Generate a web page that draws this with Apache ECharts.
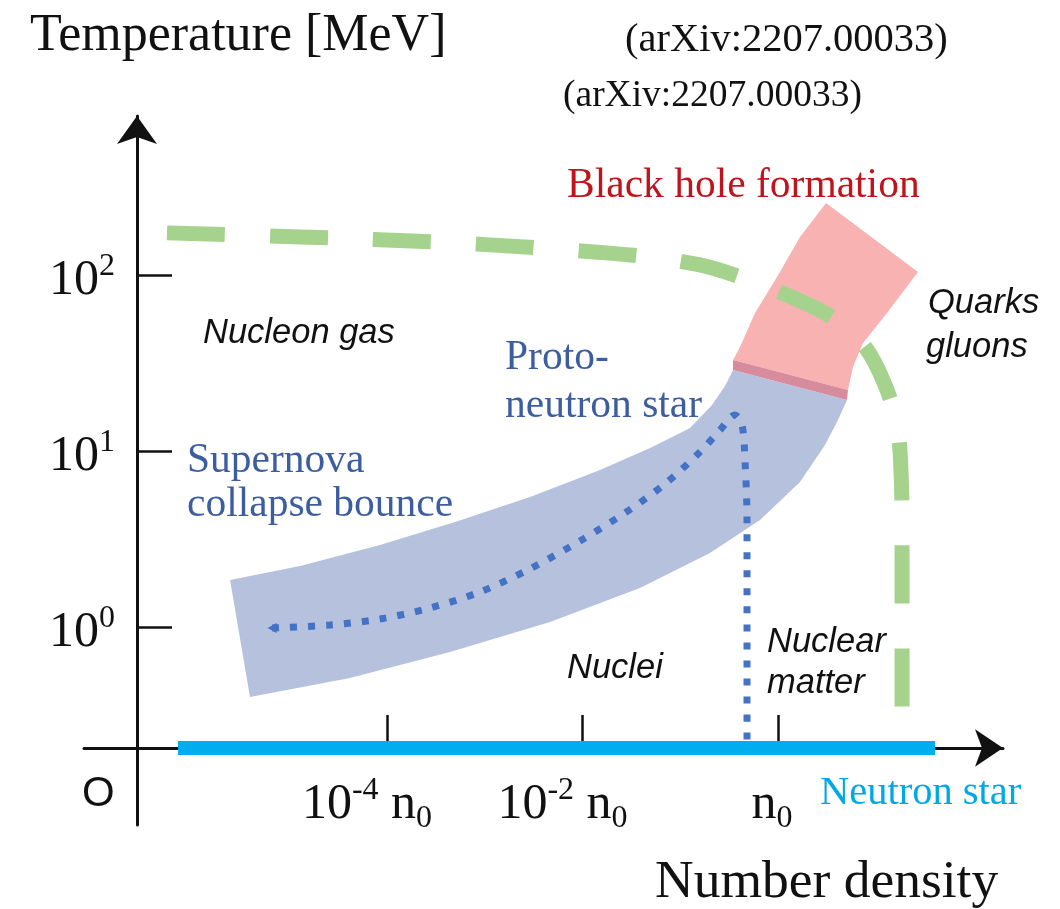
<!DOCTYPE html>
<html>
<head>
<meta charset="utf-8">
<title>QCD phase diagram sketch</title>
<script src="https://cdn.jsdelivr.net/npm/echarts@6/dist/echarts.min.js"></script>
<style>
  html, body { margin: 0; padding: 0; background: #ffffff; }
  #chart { width: 1060px; height: 909px; }
</style>
</head>
<body>
<div id="chart"></div>
<script>
// Axis values: x = log10(n / n0), y = log10(T / MeV)
const densityTicks = [-4, -2, 0];
const tempTicks = [0, 1, 2];

// Supernova / proto-neutron-star band: upper and lower edges, left to right
const snBandUpper = [
  [-5.606, 0.267], [-4.890, 0.347], [-4.072, 0.466], [-3.304, 0.597],
  [-2.537, 0.739], [-1.821, 0.892], [-1.309, 1.017], [-0.900, 1.131],
  [-0.675, 1.261], [-0.542, 1.369], [-0.460, 1.460]
];
const snBandLower = [
  [-5.402, -0.398], [-4.379, -0.290], [-3.355, -0.142], [-2.332, 0.028],
  [-1.412, 0.222], [-0.696, 0.420], [-0.184, 0.608], [0.225, 0.824],
  [0.481, 1.034], [0.614, 1.176], [0.706, 1.290]
];

// Black hole formation region (outline, clockwise)
const bhRegion = [
  [-0.460, 1.517], [-0.389, 1.591], [-0.235, 1.784], [-0.010, 1.989],
  [0.225, 2.216], [0.491, 2.409], [1.432, 2.017], [1.115, 1.784],
  [0.870, 1.614], [0.767, 1.477], [0.716, 1.347]
];
// Overlap strip between the two regions
const overlapStrip = [
  [-0.460, 1.517], [0.716, 1.347], [0.706, 1.290], [-0.460, 1.460]
];

// Hadron / quark-gluon crossover boundary
const phaseBoundary = [
  [-6.251, 2.239], [-4.890, 2.216], [-3.540, 2.188], [-2.435, 2.153],
  [-1.412, 2.108], [-0.798, 2.057], [-0.389, 1.989], [0.041, 1.898],
  [0.563, 1.756], [0.890, 1.591], [1.095, 1.375], [1.217, 1.148],
  [1.258, 0.892], [1.269, 0.494], [1.269, -0.460]
];

// Collapse / bounce / cooling trajectory
const pnsTrack = [
  [-5.176, -0.006], [-4.583, 0.011], [-4.072, 0.045], [-3.560, 0.108],
  [-3.049, 0.199], [-2.537, 0.330], [-2.026, 0.489], [-1.565, 0.648],
  [-1.156, 0.813], [-0.798, 0.994], [-0.593, 1.119], [-0.440, 1.205],
  [-0.368, 1.148], [-0.338, 0.949], [-0.317, 0.608], [-0.317, -0.642]
];

// Cold neutron stars: T ~ 0, on the density axis
const axisFloor = -0.6875;
const neutronStarRange = [[-6.138, axisFloor], [1.606, axisFloor]];

const SERIF = "'Liberation Serif', 'Times New Roman', serif";
const SANS = "'Liberation Sans', Arial, sans-serif";

function region(name, pts, color, z) {
  return {
    type: 'custom',
    name: name,
    coordinateSystem: 'cartesian2d',
    z: z,
    silent: true,
    animation: false,
    data: [pts[0]],
    renderItem: function (params, api) {
      return {
        type: 'polygon',
        shape: { points: pts.map(function (p) { return api.coord(p); }) },
        style: { fill: color }
      };
    }
  };
}

function note(text, x, y, font, fill) {
  return { type: 'text', x: x, y: y, silent: true, z: 50,
    style: { text: text, font: font, fill: fill, align: 'left', verticalAlign: 'middle' } };
}

const chart = echarts.init(document.getElementById('chart'), null, { renderer: 'canvas' });

const ink = '#111111';
const blueText = '#3c5ea0';
const labelSerif = '41.5px ' + SERIF;
const labelSans = 'italic 34.5px ' + SANS;

const option = {
  animation: false,
  backgroundColor: '#ffffff',
  grid: { left: 84, right: 57, top: 116, bottom: 84, outerBoundsMode: 'none' },
  xAxis: {
    type: 'value', min: -7.1, max: 2.302, offset: -77,
    splitLine: { show: false },
    axisLine: { show: true, onZero: false, lineStyle: { color: ink, width: 3 },
      symbol: ['none', 'arrow'], symbolSize: [28, 28] },
    axisTick: { show: true, inside: true, length: 33, customValues: densityTicks,
      lineStyle: { color: ink, width: 2.5 } },
    axisLabel: {
      customValues: densityTicks, margin: 27,
      formatter: function (v) {
        return v === 0 ? '{b|n}{sub0|0}' : '{b|10}{sup|' + v + '}{b| n}{sub|0}';
      },
      rich: {
        b: { fontFamily: SERIF, fontSize: 50, color: ink, lineHeight: 60, verticalAlign: 'middle' },
        sup: { fontFamily: SERIF, fontSize: 32, color: ink, lineHeight: 48, verticalAlign: 'top' },
        sub: { fontFamily: SERIF, fontSize: 32, color: ink, lineHeight: 32, verticalAlign: 'bottom',
          padding: [0, 40, 0, 0] },
        sub0: { fontFamily: SERIF, fontSize: 32, color: ink, lineHeight: 32, verticalAlign: 'bottom',
          padding: [0, 12, 0, 0] }
      }
    }
  },
  yAxis: {
    type: 'value', min: -1.125, max: 2.903, offset: -53,
    splitLine: { show: false },
    axisLine: { show: true, onZero: false, lineStyle: { color: ink, width: 3 },
      symbol: ['none', 'arrow'], symbolSize: [30, 28] },
    axisTick: { show: true, inside: true, length: 35, customValues: tempTicks,
      lineStyle: { color: ink, width: 2.5 } },
    axisLabel: {
      customValues: tempTicks, margin: 22, padding: [12, 0, 0, 0],
      formatter: function (v) { return '{b|10}{sup|' + v + '}'; },
      rich: {
        b: { fontFamily: SERIF, fontSize: 50, color: ink, lineHeight: 60, verticalAlign: 'middle' },
        sup: { fontFamily: SERIF, fontSize: 32, color: ink, lineHeight: 48, verticalAlign: 'top' }
      }
    }
  },
  graphic: [
    note('Temperature [MeV]', 30, 36, '52px ' + SERIF, ink),
    note('(arXiv:2207.00033)', 625, 40, '40.5px ' + SERIF, ink),
    note('(arXiv:2207.00033)', 563, 96, '37.5px ' + SERIF, ink),
    note('Black hole formation', 567, 186, labelSerif, '#c0141c'),
    note('Nucleon gas', 203, 333, labelSans, ink),
    note('Proto-', 505, 358, labelSerif, blueText),
    note('neutron star', 505, 406, labelSerif, blueText),
    note('Supernova', 187, 461, labelSerif, blueText),
    note('collapse bounce', 187, 505, labelSerif, blueText),
    note('Quarks', 928, 303, labelSans, ink),
    note('gluons', 926, 347, labelSans, ink),
    note('Nuclei', 567, 668, labelSans, ink),
    note('Nuclear', 767, 642, labelSans, ink),
    note('matter', 767, 683, labelSans, ink),
    note('Neutron star', 820, 793, '40.5px ' + SERIF, '#00a9e6'),
    note('Number density', 655, 883, '53.5px ' + SERIF, ink),
    note('O', 82, 794, '42px ' + SANS, ink)
  ],
  series: [
    region('Supernova band', snBandUpper.concat(snBandLower.slice().reverse()), '#b6c2dd', 2),
    region('Black hole formation', bhRegion, '#f9b2b2', 3),
    region('Overlap', overlapStrip, '#d68c9d', 4),
    {
      type: 'line', name: 'Crossover', z: 6, silent: true,
      data: phaseBoundary, smooth: 0.35, symbol: 'none',
      lineStyle: { color: '#a5d28c', width: 15, type: [58, 45], cap: 'butt' }
    },
    {
      type: 'line', name: 'Trajectory', z: 7, silent: true,
      data: pnsTrack.map(function (p, i) {
        return i === 0
          ? { value: p, symbol: 'triangle', symbolSize: [10, 9], symbolRotate: 90 }
          : { value: p };
      }),
      smooth: 0.3, symbol: 'none', showSymbol: true,
      itemStyle: { color: '#4472c4' },
      lineStyle: { color: '#4472c4', width: 7, type: [7, 11], cap: 'butt' }
    },
    {
      type: 'line', name: 'Neutron star', z: 8, silent: true,
      data: neutronStarRange, symbol: 'none',
      lineStyle: { color: '#00aeef', width: 14, cap: 'butt' }
    }
  ]
};

chart.setOption(option);
</script>
</body>
</html>
